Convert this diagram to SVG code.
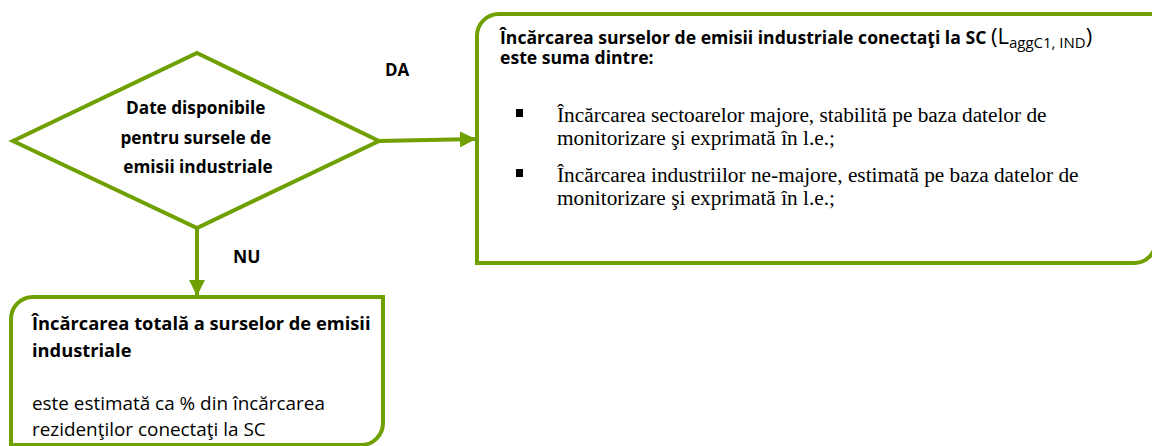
<svg xmlns="http://www.w3.org/2000/svg" width="1152" height="446" viewBox="0 0 1152 446">
  <style>
    .shape { fill: #ffffff; stroke: #6fa000; stroke-width: 4; stroke-linejoin: miter; }
    .conn { fill: none; stroke: #6fa000; stroke-width: 4; }
    .b { font-family: "Open Sans", "Liberation Sans", sans-serif; font-weight: bold; fill: #000; }
    .r { font-family: "Open Sans", "Liberation Sans", sans-serif; fill: #000; }
    .t { font-family: "Liberation Serif", "Times New Roman", serif; fill: #000; }
  </style>
  <defs>
    <marker id="arrow" viewBox="0 0 10 10" refX="10" refY="5" markerWidth="4" markerHeight="4" markerUnits="strokeWidth" orient="auto">
      <path d="M0,0 L10,5 L0,10 Z" fill="#6fa000"/>
    </marker>
  </defs>

  <!-- connectors -->
  <g id="connectors">
    <line class="conn" x1="379" y1="141" x2="476" y2="139" marker-end="url(#arrow)"/>
    <line class="conn" x1="197" y1="228" x2="197" y2="296" marker-end="url(#arrow)"/>
    <text class="b" x="385" y="76" font-size="17">DA</text>
    <text class="b" x="233" y="263" font-size="17.5">NU</text>
  </g>

  <!-- decision -->
  <g id="decision">
    <polygon class="shape" points="197,53 379,141 197,228 13,141"/>
    <text class="b" font-size="17.2" text-anchor="middle">
      <tspan x="198" y="114">Date disponibile</tspan>
      <tspan x="198" y="144">pentru sursele de</tspan>
      <tspan x="198" y="173">emisii industriale</tspan>
    </text>
  </g>

  <!-- measured loads -->
  <g id="measured">
    <path class="shape" d="M477,36 A22,22 0 0 1 499,14 L1156,14 L1156,241 A22,22 0 0 1 1134,263 L477,263 Z"/>
    <text class="b" font-size="17.6" x="500" y="44">Încărcarea surselor de emisii industriale conectaţi la SC <tspan font-weight="normal" font-size="22">(L</tspan><tspan font-weight="normal" font-size="15" dy="4">aggC1, IND</tspan><tspan font-weight="normal" font-size="22" dy="-4">)</tspan></text>
    <text class="b" font-size="17.6" x="500" y="64">este suma dintre:</text>
    <rect x="516" y="109" width="7" height="8" fill="#000"/>
    <rect x="516" y="169" width="7" height="8" fill="#000"/>
    <text class="t" font-size="21.3">
      <tspan x="557" y="122">Încărcarea sectoarelor majore, stabilită pe baza datelor de</tspan>
      <tspan x="557" y="145">monitorizare şi exprimată în l.e.;</tspan>
      <tspan x="557" y="182">Încărcarea industriilor ne-majore, estimată pe baza datelor de</tspan>
      <tspan x="557" y="205">monitorizare şi exprimată în l.e.;</tspan>
    </text>
  </g>

  <!-- estimated loads -->
  <g id="estimated">
    <path class="shape" d="M11,319 A22,22 0 0 1 33,297 L383,297 L383,423 A22,22 0 0 1 361,445 L11,445 Z"/>
    <text class="b" font-size="18.3">
      <tspan x="32" y="330">Încărcarea totală a surselor de emisii</tspan>
      <tspan x="32" y="357">industriale</tspan>
    </text>
    <text class="r" font-size="18.9">
      <tspan x="32" y="410">este estimată ca % din încărcarea</tspan>
      <tspan x="32" y="436">rezidenţilor conectaţi la SC</tspan>
    </text>
  </g>
</svg>
